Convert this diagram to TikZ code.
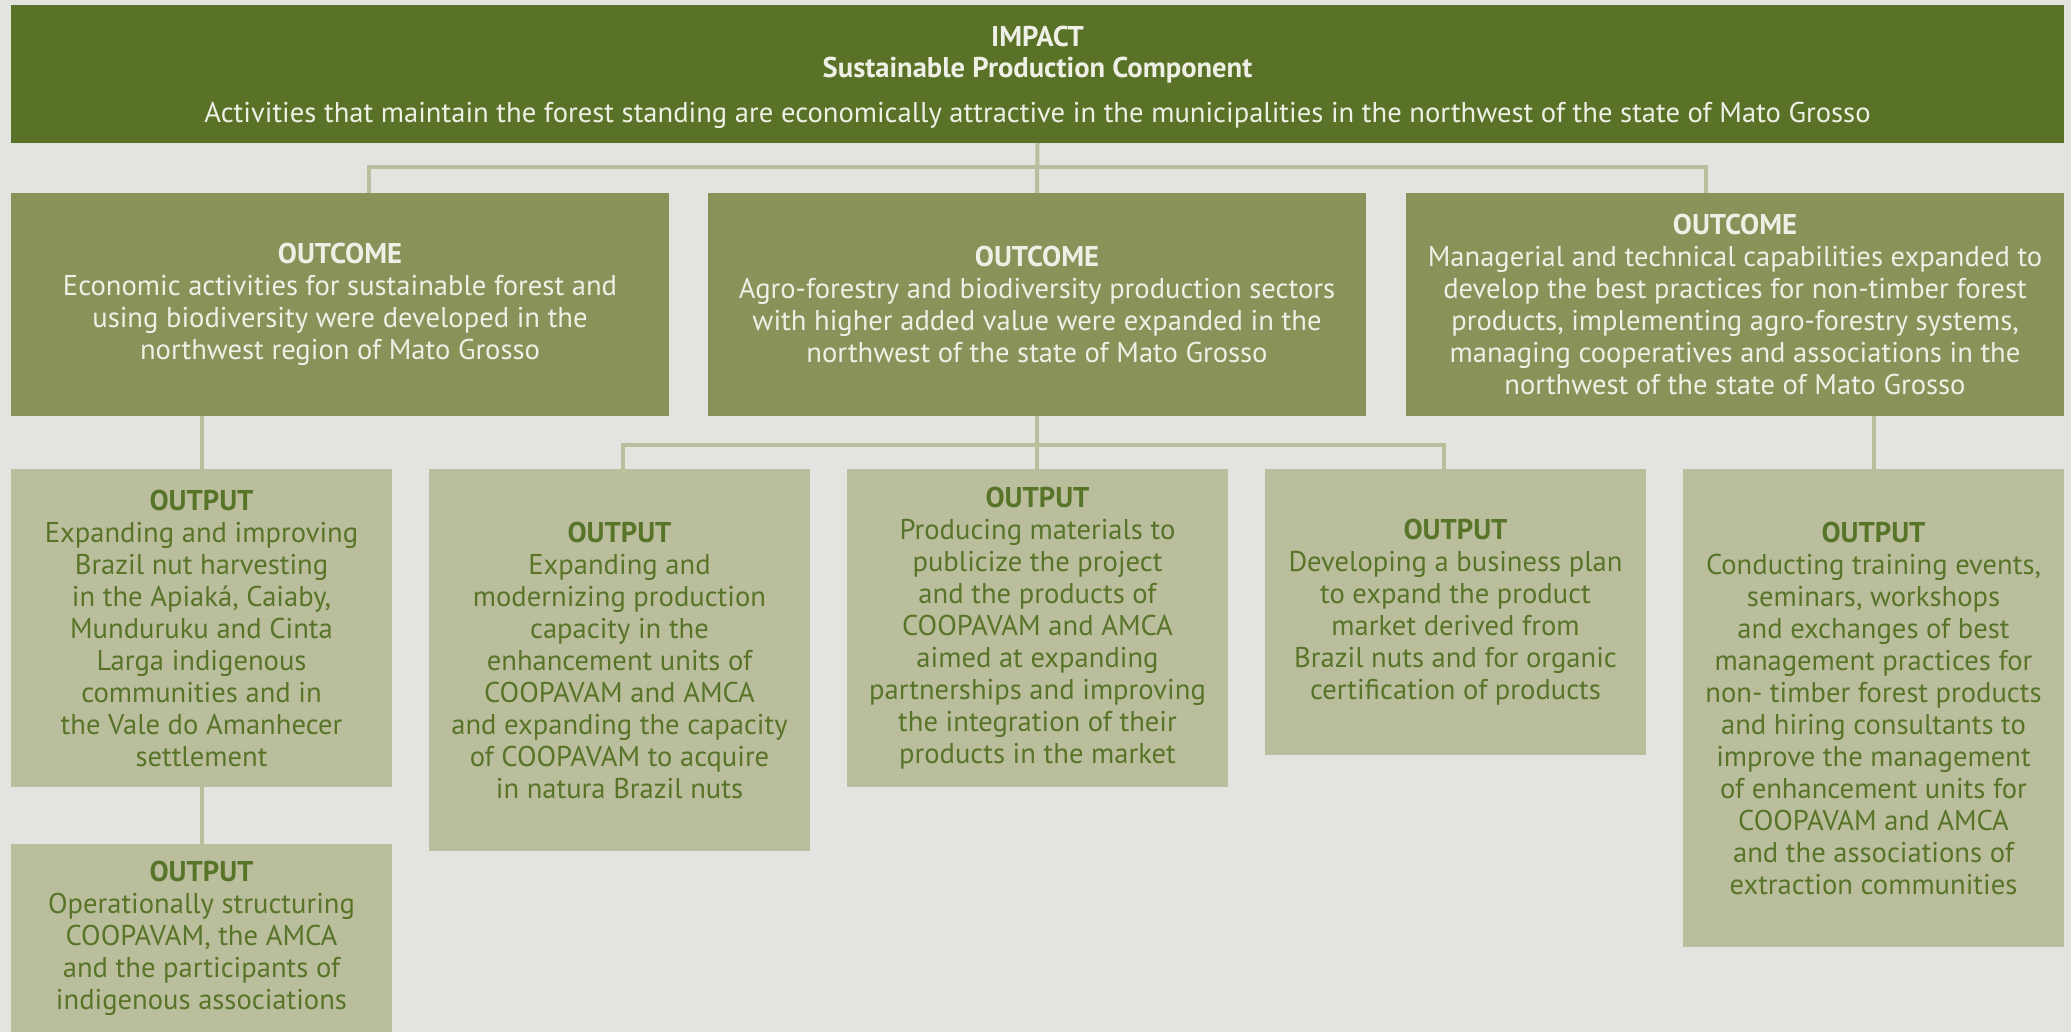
\documentclass[tikz,border=0pt]{standalone}
\usepackage{fontspec}
\setmainfont{PT Sans}
\usetikzlibrary{positioning}
\definecolor{pagebg}{HTML}{E2E4DF}
\definecolor{impactgreen}{HTML}{5A7227}
\definecolor{outcomegreen}{HTML}{879359}
\definecolor{outputsage}{HTML}{BBBE9D}
\definecolor{outputtext}{HTML}{587428}
\definecolor{lighttext}{HTML}{EEF0E6}

\begin{document}
\begin{tikzpicture}[
    font=\fontsize{14.3}{16}\selectfont,
    box/.style={inner sep=0pt, outer sep=0pt, align=center},
    impactbox/.style={box, fill=impactgreen, text=lighttext, minimum width=1026.5pt, minimum height=69pt},
    outcomebox/.style={box, fill=outcomegreen, text=lighttext, minimum width=329pt, minimum height=111.5pt},
    outputbox/.style={box, fill=outputsage, text=outputtext, minimum width=190.5pt},
    link/.style={draw=outputsage, line width=2pt}
]
    \fill[pagebg] (0,0) rectangle (1035.5pt,-516pt);
    \useasboundingbox (0,0) rectangle (1035.5pt,-516pt);

    % impact
    \node[impactbox, anchor=north west] (impact) at (5.5pt,-2.5pt) {\rule{0pt}{13.6pt}\textbf{IMPACT}\\[-0.8pt]\textbf{Sustainable Production Component}\\[6.5pt]Activities that maintain the forest standing are economically attractive in the municipalities in the northwest of the state of Mato Grosso};

    % outcomes
    \node[outcomebox, below right=25pt and 0pt of impact.south west] (o1) {\textbf{OUTCOME}\\Economic activities for sustainable forest and\\using biodiversity were developed in the\\northwest region of Mato Grosso};
    \node[outcomebox, right=19.5pt of o1] (o2) {\textbf{OUTCOME}\\Agro-forestry and biodiversity production sectors\\with higher added value were expanded in the\\northwest of the state of Mato Grosso};
    \node[outcomebox, right=20pt of o2] (o3) {\textbf{OUTCOME}\\Managerial and technical capabilities expanded to\\develop the best practices for non-timber forest\\products, implementing agro-forestry systems,\\managing cooperatives and associations in the\\northwest of the state of Mato Grosso};

    % outputs
    \node[outputbox, minimum height=159pt, below right=26.5pt and 0pt of o1.south west] (outA) {\textbf{OUTPUT}\\Expanding and improving\\Brazil nut harvesting\\in the Apiaká, Caiaby,\\Munduruku and Cinta\\Larga indigenous\\communities and in\\the Vale do Amanhecer\\settlement};
    \node[outputbox, minimum height=191pt, below right=0pt and 18.5pt of outA.north east] (outB) {\textbf{OUTPUT}\\Expanding and\\modernizing production\\capacity in the\\enhancement units of\\COOPAVAM and AMCA\\and expanding the capacity\\of COOPAVAM to acquire\\in natura Brazil nuts};
    \node[outputbox, minimum height=159pt, below right=0pt and 18.5pt of outB.north east] (outC) {\textbf{OUTPUT}\\Producing materials to\\publicize the project\\and the products of\\COOPAVAM and AMCA\\aimed at expanding\\partnerships and improving\\the integration of their\\products in the market};
    \node[outputbox, minimum height=143pt, below right=0pt and 18.5pt of outC.north east] (outD) {\textbf{OUTPUT}\\Developing a business plan\\to expand the product\\market derived from\\Brazil nuts and for organic\\certification of products};
    \node[outputbox, minimum height=239pt, below right=0pt and 18.5pt of outD.north east] (outE) {\textbf{OUTPUT}\\Conducting training events,\\seminars, workshops\\and exchanges of best\\management practices for\\non- timber forest products\\and hiring consultants to\\improve the management\\of enhancement units for\\COOPAVAM and AMCA\\and the associations of\\extraction communities};
    \node[outputbox, minimum height=94pt, below=28.5pt of outA] (outF) {\textbf{OUTPUT}\\Operationally structuring\\COOPAVAM, the AMCA\\and the participants of\\indigenous associations};

    % connectors
    \coordinate (bus) at ([yshift=-12pt]impact.south);
    \draw[link] ([xshift=14.5pt]o1.north) |- (bus) -| ([xshift=-14.5pt]o3.north);
    \draw[link] (impact.south) -- (o2.north);
    \coordinate (fork) at ([yshift=-14.5pt]o2.south);
    \draw[link] ([xshift=1.5pt]outB.north) |- (fork) -| ([xshift=-6pt]outD.north);
    \draw[link] (o2.south) -- (o2.south |- outC.north);
    \draw[link] (outA.north |- o1.south) -- (outA.north);
    \draw[link] (outE.north |- o3.south) -- (outE.north);
    \draw[link] (outA.south) -- (outF.north);
\end{tikzpicture}
\end{document}
